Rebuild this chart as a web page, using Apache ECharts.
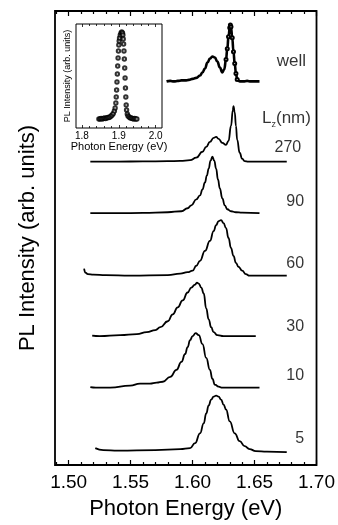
<!DOCTYPE html>
<html><head><meta charset="utf-8">
<script src="https://cdn.jsdelivr.net/npm/echarts@6/dist/echarts.min.js"></script>
<style>html,body{margin:0;padding:0;background:#fff}#c{width:338px;height:525px}</style>
</head><body><div id="c"></div>
<script>
// ---- data (photon energy eV, intensity above each baseline, arb. units) ----
const curveNames = ['well', '270', '90', '60', '30', '10', '5'];
const baselines = [387, 306, 254, 191, 130, 78, 14];
const wellPts = [[1.579,0],[1.582,0.5],[1.585,0],[1.588,0.5],[1.591,1],[1.594,1],[1.597,1.5],[1.600,2.5],[1.603,3.5],[1.606,6],[1.608,9],[1.610,13],[1.612,19],[1.614,23],[1.616,25],[1.618,24],[1.620,20],[1.622,14],[1.624,9],[1.6255,12],[1.627,22],[1.628,33],[1.629,45],[1.630,54],[1.6305,57],[1.631,55],[1.632,44],[1.633,30],[1.634,18],[1.635,8],[1.636,2],[1.638,0],[1.641,0],[1.644,0.5],[1.647,0],[1.650,0],[1.654,0]];
const pts270 = [[1.5175,0],[1.540,0],[1.560,0.3],[1.580,0.5],[1.590,0.8],[1.598,1.5],[1.603,4],[1.608,10],[1.611,15],[1.614,20],[1.617,24],[1.619,25],[1.621,23],[1.624,19],[1.627,17],[1.629,21],[1.631,36],[1.6325,52],[1.633,56],[1.634,50],[1.635,36],[1.636,22],[1.638,9],[1.640,3],[1.642,0.5],[1.645,0],[1.676,0]];
const pts90 = [[1.5175,0],[1.540,0],[1.560,0.3],[1.580,1],[1.591,2],[1.596,5],[1.599,8],[1.603,14],[1.606,18],[1.608,24],[1.610,31],[1.6115,38],[1.613,45],[1.6145,53],[1.616,57],[1.6175,53],[1.619,45],[1.6205,34],[1.622,25],[1.624,15],[1.626,8],[1.628,4],[1.631,2],[1.635,1],[1.640,0.5],[1.654,0]];
const pts60 = [[1.5125,7],[1.5135,3],[1.5155,1.5],[1.520,1],[1.530,0.5],[1.550,0],[1.580,0.5],[1.590,2],[1.596,3.5],[1.600,5],[1.603,10],[1.606,15],[1.610,25],[1.614,35],[1.617,45],[1.619,51],[1.621,55],[1.623,56],[1.625,53],[1.627,48],[1.629,38],[1.631,28],[1.633,20],[1.635,13],[1.637,9],[1.640,5],[1.643,1.5],[1.646,0],[1.676,0]];
const pts30 = [[1.519,0.5],[1.525,0],[1.5415,1],[1.555,2],[1.563,4],[1.570,6],[1.574,9],[1.580,15],[1.584,22],[1.588,29],[1.592,36],[1.596,44],[1.599,49],[1.602,52],[1.6035,54],[1.605,53],[1.607,49],[1.609,43],[1.611,28],[1.613,17],[1.615,9],[1.617,4],[1.620,1],[1.625,0],[1.651,0]];
const pts10 = [[1.5175,0.5],[1.522,0],[1.5335,0],[1.5496,2],[1.5576,4],[1.5656,4],[1.571,5],[1.576,6],[1.582,11],[1.587,18],[1.591,26],[1.594,34],[1.596,41],[1.598,48],[1.600,52],[1.6025,55],[1.605,53],[1.608,44],[1.611,30],[1.614,18],[1.616,9],[1.618,3],[1.621,1],[1.624,0],[1.654,0]];
const pts5 = [[1.5215,3],[1.528,1],[1.540,0.5],[1.570,1],[1.590,2],[1.598,3],[1.602,8],[1.606,18],[1.609,28],[1.611,38],[1.613,46],[1.615,52],[1.617,55],[1.619,56],[1.621,55],[1.623,52],[1.625,47],[1.627,42],[1.630,30],[1.634,18],[1.638,10],[1.642,5],[1.646,2],[1.651,0],[1.660,-0.5],[1.676,-1]];
const curvePts = [wellPts, pts270, pts90, pts60, pts30, pts10, pts5];
// energy window where the "well" data markers stand out
const wellMarkerRange = [1.6265, 1.6365];
// curve labels: [energy, height, text]
const labelPts = [[1.6915,407,'well'],[1.6955,350,'Lz'],[1.6877,320,'270'],[1.690,266,'90'],[1.690,203,'60'],[1.690,140,'30'],[1.690,90,'10'],[1.690,27,'5']];
// inset spectrum (photon energy eV, intensity)
const insetPts = [[1.846,9],[1.849,9],[1.852,9.5],[1.855,9],[1.858,9.5],[1.861,10],[1.864,9.5],[1.867,10],[1.870,10.5],[1.873,10.5],[1.876,11],[1.879,12],[1.882,13],[1.885,14.5],[1.888,17],[1.890,20],[1.892,25],[1.893,31],[1.894,38],[1.895,46],[1.896,54],[1.897,62],[1.898,70],[1.899,77],[1.900,83],[1.901,87],[1.902,90],[1.904,93],[1.906,95],[1.908,96],[1.910,95],[1.911,93],[1.912,89],[1.913,84],[1.914,77],[1.915,69],[1.916,60],[1.917,50],[1.918,40],[1.919,31],[1.920,23],[1.921,18],[1.923,14],[1.925,12],[1.928,11],[1.931,10],[1.934,10],[1.937,9.5],[1.940,9],[1.943,9.5],[1.946,9],[1.949,9]];
// ticks
const mainMajor = [1.50, 1.55, 1.60, 1.65, 1.70];
const mainMinor = [1.49,1.51,1.52,1.53,1.54,1.56,1.57,1.58,1.59,1.61,1.62,1.63,1.64,1.66,1.67,1.68,1.69];
const insetMajor = [1.8, 1.9, 2.0];
const insetMinor = [1.82,1.84,1.86,1.88,1.92,1.94,1.96,1.98];

const FF = '"Liberation Sans", Arial, Helvetica, sans-serif';
const chart = echarts.init(document.getElementById('c'), null, {renderer: 'canvas'});

function tickAxis(grid, min, max, pos, vals, len, labels, extra) {
  return Object.assign({
    gridIndex: grid, type: 'value', min: min, max: max, position: pos,
    axisLine: {show: false}, splitLine: {show: false},
    axisTick: {show: true, inside: true, length: len, customValues: vals, lineStyle: {color: '#000', width: grid === 0 ? 1.2 : 0.8}},
    axisLabel: labels ? labels : {show: false}
  }, extra || {});
}

const series = curvePts.map((pts, i) => ({
  type: 'line', xAxisIndex: 0, yAxisIndex: 0, name: curveNames[i],
  data: pts.map(p => {
    const item = {value: [p[0], p[1] + baselines[i]]};
    if (i === 0) item.symbolSize = (p[0] >= wellMarkerRange[0] && p[0] <= wellMarkerRange[1]) ? 3 : 0;
    return item;
  }),
  smooth: 0.5, smoothMonotone: 'x',
  showSymbol: i === 0, showAllSymbol: true, symbol: 'emptyCircle', symbolSize: 0,
  itemStyle: {color: '#000', borderWidth: 0.7},
  lineStyle: {color: '#000', width: i === 0 ? 2.6 : 1.8},
  silent: true, animation: false, z: 3
}));
series.push({
  type: 'scatter', xAxisIndex: 0, yAxisIndex: 0, symbolSize: 0,
  data: labelPts.map(p => ({value: [p[0], p[1]], name: p[2]})),
  label: {show: true, position: 'left', distance: 0, color: '#000', fontFamily: FF, fontSize: 16,
    formatter: p => p.name === 'Lz' ? '{a|L}{s|z}{a|(nm)}' : (p.name === 'well' ? '{w|well}' : p.name),
    rich: {a: {fontSize: 17, fontFamily: FF, color: '#000'}, s: {fontSize: 9, fontFamily: FF, color: '#000', verticalAlign: 'bottom', padding: [12, 0, 0, 0]}, w: {fontSize: 17, fontFamily: FF, color: '#000'}}},
  silent: true, animation: false, z: 5
});
series.push({
  type: 'scatter', xAxisIndex: 4, yAxisIndex: 1, data: insetPts,
  symbol: 'emptyCircle', symbolSize: 3.4,
  itemStyle: {color: '#000', borderWidth: 0.7},
  silent: true, animation: false, z: 6
});

chart.setOption({
  animation: false,
  backgroundColor: '#fff',
  grid: [
    {left: 55, top: 11, width: 263, height: 458, show: true, borderColor: '#000', borderWidth: 1.8, backgroundColor: 'transparent'},
    {left: 76, top: 24, width: 86, height: 104, show: true, borderColor: '#000', borderWidth: 1, backgroundColor: 'transparent'}
  ],
  xAxis: [
    tickAxis(0, 1.489, 1.70, 'bottom', mainMajor, 5,
      {show: true, customValues: mainMajor, formatter: v => v.toFixed(2), fontSize: 19, fontFamily: FF, color: '#000', margin: 8},
      {name: 'Photon Energy (eV)', nameLocation: 'middle', nameGap: 33, nameTextStyle: {fontSize: 22, fontFamily: FF, color: '#000'}}),
    tickAxis(0, 1.489, 1.70, 'bottom', mainMinor, 3, null),
    tickAxis(0, 1.489, 1.70, 'top', mainMajor, 5, null),
    tickAxis(0, 1.489, 1.70, 'top', mainMinor, 3, null),
    tickAxis(1, 1.784, 2.017, 'bottom', insetMajor, 3,
      {show: true, customValues: insetMajor, formatter: v => v.toFixed(1), fontSize: 10, fontFamily: FF, color: '#000', margin: 3},
      {name: 'Photon Energy (eV)', nameLocation: 'middle', nameGap: 13, nameTextStyle: {fontSize: 11, fontFamily: FF, color: '#000'}}),
    tickAxis(1, 1.784, 2.017, 'bottom', insetMinor, 2, null),
    tickAxis(1, 1.784, 2.017, 'top', insetMajor, 3, null),
    tickAxis(1, 1.784, 2.017, 'top', insetMinor, 2, null)
  ],
  yAxis: [
    {gridIndex: 0, type: 'value', min: 0, max: 458, axisLine: {show: false}, axisTick: {show: false}, axisLabel: {show: false}, splitLine: {show: false},
      name: 'PL Intensity (arb. units)', nameLocation: 'middle', nameRotate: 90, nameGap: 16, nameTextStyle: {fontSize: 22, fontFamily: FF, color: '#000'}},
    {gridIndex: 1, type: 'value', min: 0, max: 104, axisLine: {show: false}, axisTick: {show: false}, axisLabel: {show: false}, splitLine: {show: false},
      name: 'PL Intensity (arb. units)', nameLocation: 'middle', nameRotate: 90, nameGap: 4, nameTextStyle: {fontSize: 9, fontFamily: FF, color: '#000'}}
  ],
  series: series
});
</script></body></html>
